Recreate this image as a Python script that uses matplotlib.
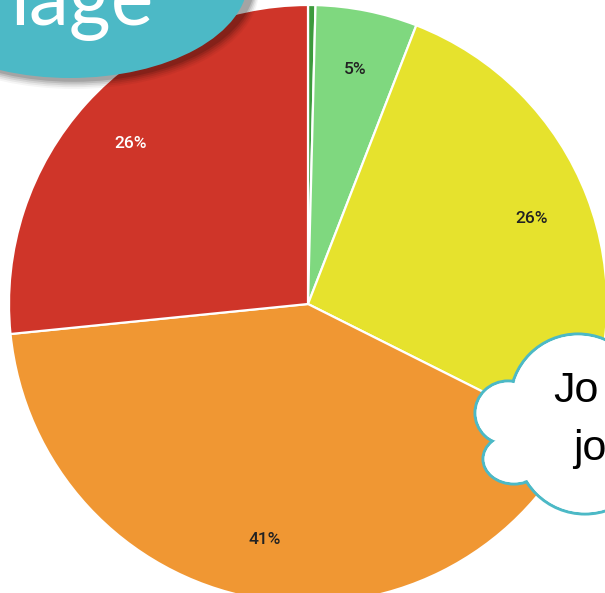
import matplotlib
matplotlib.use("Agg")
import matplotlib.pyplot as plt
from matplotlib.patches import Ellipse

# slice data (clockwise from 12 o'clock)
shares = [0.4, 5.5, 26.5, 41.0, 26.6]
pct_labels = ['', '5%', '26%', '41%', '26%']
colors = ['#3d9a3d', '#7fd87f', '#e6e22d', '#f09733', '#cf3529']
label_colors = ['#222222', '#222222', '#222222', '#222222', '#ffffff']

W, H = 605, 593
fig = plt.figure(figsize=(W / 100, H / 100), dpi=100)
ax = fig.add_axes([0, 0, 1, 1])


def Y(y):
    # image y (from top) to data y
    return H - y


# Pie
it = iter(pct_labels)
wedges, texts, autotexts = ax.pie(
    shares, colors=colors, startangle=90, counterclock=False,
    center=(308, Y(304)), radius=299, frame=True,
    autopct=lambda p: next(it), pctdistance=0.8,
    wedgeprops=dict(edgecolor='white', linewidth=1.6),
    textprops=dict(family='Roboto', fontsize=12.5, fontweight='medium'))
for t, c in zip(autotexts, label_colors):
    t.set_color(c)
ax.set_xlim(0, W)
ax.set_ylim(0, H)
ax.set_aspect('equal')
ax.axis('off')

# Teal title shape top-left with soft shadow
for k, a in enumerate([0.04, 0.06, 0.08, 0.10, 0.13]):
    off = 10 - k * 1.8
    ax.add_patch(Ellipse((74, Y(-20 + off)), 370 - 2 * k, 198, facecolor='#000000',
                         alpha=a, edgecolor='none', zorder=5))
ax.add_patch(Ellipse((70, Y(-20)), 356, 196, facecolor='#4cb9c6',
                     edgecolor='none', zorder=6))
ax.text(10, Y(25), 'lage', family='Lato', fontsize=58, color='white',
        ha='left', va='baseline', zorder=7)

# Cloud callout at right: lobes as (cx, cy, width, height) in image pixels
lobes = [(578, 402, 136, 136), (508, 413, 66, 64), (514, 459, 62, 50), (585, 445, 138, 138)]
for cx, cy, w, h in lobes:
    ax.add_patch(Ellipse((cx, Y(cy)), w, h, facecolor='white',
                         edgecolor='#4cb9c6', linewidth=2.2, zorder=8))
for cx, cy, w, h in lobes:
    ax.add_patch(Ellipse((cx, Y(cy)), w - 3.2, h - 3.2, facecolor='white',
                         edgecolor='none', zorder=9))
ax.add_patch(Ellipse((560, Y(440)), 90, 90, facecolor='white', edgecolor='none', zorder=9))
ax.text(553, Y(402), 'Jo', family='Liberation Sans', fontsize=31,
        color='black', ha='left', va='baseline', zorder=10)
ax.text(573, Y(460), 'jo', family='Liberation Sans', fontsize=31,
        color='black', ha='left', va='baseline', zorder=10)

fig.savefig('out.png', dpi=100, facecolor='white')
